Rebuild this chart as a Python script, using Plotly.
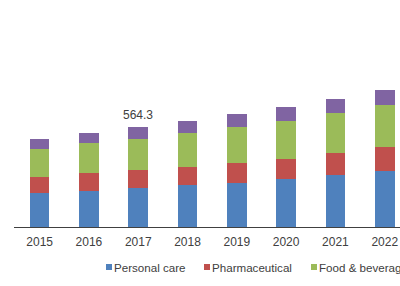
import plotly.graph_objects as go

years = ["2015", "2016", "2017", "2018", "2019", "2020", "2021", "2022"]
series_names = ["Personal care", "Pharmaceutical", "Food & beverages", "Others"]
personal_care = [189, 202.5, 217, 234, 249, 272, 294, 317]
pharmaceutical = [94, 99, 101.3, 105, 112.5, 112.5, 120, 131]
food_beverages = [157.5, 169, 178, 191, 202.5, 214, 229, 240]
others = [56, 56, 68, 67.5, 69, 79, 79, 84]
colors = ["#4F81BD", "#C0504D", "#9BBB59", "#8064A2"]
label_year = "2017"

values = [personal_care, pharmaceutical, food_beverages, others]

fig = go.Figure()
for name, vals, col in zip(series_names, values, colors):
    fig.add_trace(go.Bar(x=years, y=vals, name=name, marker=dict(color=col, line=dict(width=0)),
                         showlegend=False))

idx = years.index(label_year)
total = sum(v[idx] for v in values)
font_family = "Liberation Sans, Arial, sans-serif"
text_color = "#404040"

annotations = [dict(x=idx, y=total, xref="x", yref="y", text=f"{total:.1f}",
                    showarrow=False, yanchor="bottom", yshift=3,
                    font=dict(family=font_family, size=12, color=text_color))]

# manual legend (paper coordinates): plot area px: left 14, width 386, bottom 227, height 227
L, W, B, H = 14, 386, 227, 227
def px_x(p):
    return (p - L) / W
def px_y(p):
    return (B - p) / H

legend_x = [106, 204, 311]
shapes = []
for lx, name, col in zip(legend_x, series_names, colors):
    shapes.append(dict(type="rect", xref="paper", yref="paper",
                       x0=px_x(lx), x1=px_x(lx + 6), y0=px_y(270), y1=px_y(264),
                       fillcolor=col, line=dict(width=0)))
    annotations.append(dict(x=px_x(lx + 6), y=px_y(267), xref="paper", yref="paper",
                            text=name, showarrow=False, xanchor="left", yanchor="middle",
                            font=dict(family=font_family, size=11.6, color=text_color)))

fig.update_layout(
    barmode="stack",
    bargap=0.6,
    width=400, height=286,
    margin=dict(l=14, r=0, t=0, b=59),
    paper_bgcolor="white", plot_bgcolor="white",
    font=dict(family=font_family, size=12, color=text_color),
    xaxis=dict(type="category", range=[-0.52, 7.31], showgrid=False, showline=True,
               linecolor="#404040", linewidth=1, ticks="", ticklabelstandoff=4,
               tickfont=dict(size=12, color=text_color)),
    yaxis=dict(range=[0, 1277], visible=False, showgrid=False, zeroline=False),
    annotations=annotations,
    shapes=shapes,
)

fig.write_html("out.html")
